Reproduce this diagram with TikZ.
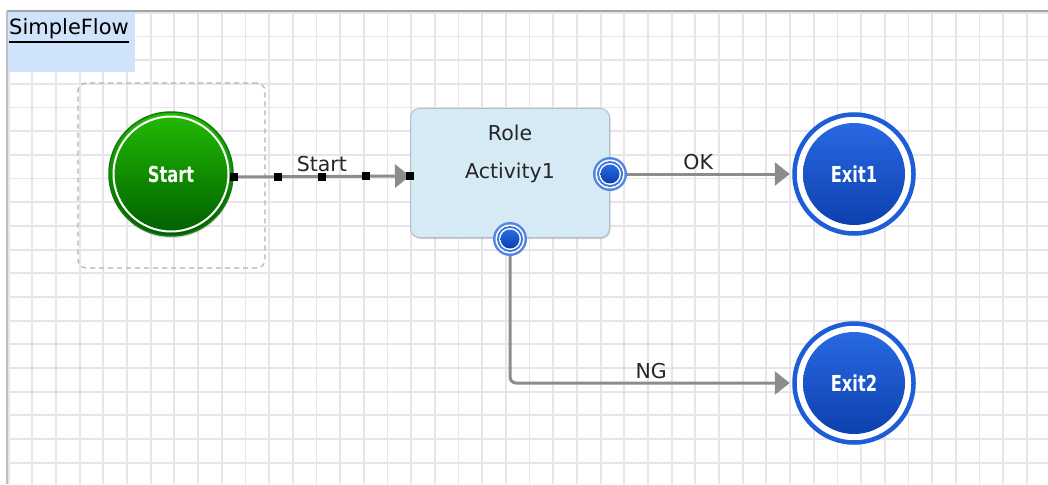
\documentclass[tikz,border=0pt]{standalone}
\usepackage{fontspec}
\setmainfont{DejaVu Sans}
\newfontfamily\boldcond[FakeStretch=0.74]{DejaVu Sans Bold}
\usetikzlibrary{arrows.meta,shadows}

\definecolor{gridc}{HTML}{E9E4E9}
\definecolor{framec}{HTML}{A4A4A4}
\definecolor{titlebg}{HTML}{CFE3FB}
\definecolor{flowc}{HTML}{8C8C8C}
\definecolor{boxfill}{HTML}{D6EAF5}
\definecolor{boxline}{HTML}{AFC0CB}
\definecolor{greentop}{HTML}{22BC02}
\definecolor{greenbot}{HTML}{005E00}
\definecolor{greenedge}{HTML}{117A0A}
\definecolor{bluering}{HTML}{1D5ED8}
\definecolor{bluetop}{HTML}{2A6CE6}
\definecolor{bluebot}{HTML}{0B3DAA}
\definecolor{txt}{HTML}{262626}

\begin{document}
\begin{tikzpicture}[x=1pt, y=-1pt]
    % Node styles
    \tikzstyle{n} = [font=\fontsize{20.5}{24}\selectfont, text=txt, inner sep=3]
    \tikzstyle{lbl} = [n, inner sep=3]
    \tikzstyle{white text} = [text=white, font=\boldcond\fontsize{22}{26}\selectfont]
    \tikzstyle{startnode} = [circle, minimum size=124, inner sep=0, draw=greenedge, line width=1.5,
        top color=greentop, bottom color=greenbot, white text,
        drop shadow={shadow xshift=0.5pt, shadow yshift=-2pt, opacity=0.3},
        path picture={\draw[white, line width=2] (path picture bounding box.center) circle (57.5pt);}]
    \tikzstyle{exitnode} = [circle, minimum size=119, inner sep=0, draw=bluering, line width=4.5,
        fill=white, white text,
        drop shadow={shadow xshift=0.5pt, shadow yshift=-2pt, opacity=0.3},
        path picture={\shade[top color=bluetop, bottom color=bluebot] (path picture bounding box.center) circle (51pt);}]
    \tikzstyle{port} = [circle, minimum size=34, inner sep=0, fill=bluering!75!white,
        path picture={
            \fill[white] (path picture bounding box.center) circle (14.5pt);
            \fill[bluering!85!white] (path picture bounding box.center) circle (13pt);
            \fill[white] (path picture bounding box.center) circle (11pt);
            \shade[top color=bluetop, bottom color=bluebot] (path picture bounding box.center) circle (9.5pt);}]
    \tikzstyle{actbox} = [n, rectangle, rounded corners=9, minimum width=199, minimum height=129,
        fill=boxfill, draw=boxline, line width=1,
        drop shadow={shadow xshift=1pt, shadow yshift=-1.5pt, opacity=0.35}]
    \tikzstyle{selbox} = [draw=gray!60, dash pattern=on 5pt off 4pt, line width=1.2, rounded corners=8,
        minimum width=187, minimum height=185, inner sep=0]
    \tikzstyle{handle} = [rectangle, fill=black, minimum size=8, inner sep=0]
    \tikzstyle{flow} = [draw=flowc, line width=3, -{Triangle[length=15pt,width=23pt]}]

    \useasboundingbox (0,0) rectangle (1048,484);
    \fill[white] (0,0) rectangle (1048,484);

    % Grid
    \begin{scope}
        \clip (7,11) rectangle (1048,484);
        \foreach \i in {0,...,44}
            \draw[gridc, line width=1.8] ({8.6+23.68*\i},11) -- ({8.6+23.68*\i},484);
        \foreach \j in {0,...,20}
            \draw[gridc, line width=1.8] (7,{12.8+23.68*\j}) -- (1048,{12.8+23.68*\j});
    \end{scope}
    \draw[framec, line width=2] (7,11) -- (1048,11);
    \draw[framec!70, line width=1.5] (7,11) -- (7,484);

    % Title
    \fill[titlebg] (8,12) rectangle (135,72);
    \node[n, anchor=base west, inner sep=0, font=\fontsize{21}{24}\selectfont, text=black] (title) at (9,35) {SimpleFlow};
    \draw[line width=1.5] ([yshift=-7pt]title.base west) -- ([yshift=-7pt]title.base east);

    % Nodes
    \node[selbox] (startsel) at (171.5,175.5) {};
    \node[startnode] (start) at (171,174) {Start};

    \node[actbox] (act) at (510,173) {Activity1};
    \node[n] (role) at (510,133) {Role};
    \node[port] (okport) at (610,174) {};
    \node[port] (ngport) at (510,239) {};

    \node[exitnode] (exit1) at (854,174) {Exit1};
    \node[exitnode] (exit2) at (854,383) {Exit2};

    % Edges
    \draw[flow] ([yshift=-3pt]start.east) -- ([yshift=-3pt]act.west)
        node[lbl, pos=0.5, above] {Start}
        node[handle, pos=0] {} node[handle, pos=0.25] {} node[handle, pos=0.5] {}
        node[handle, pos=0.75] {} node[handle, pos=1] {};

    \draw[flow, shorten >=2.5pt] (okport) -- (exit1) node[lbl, pos=0.43, above] {OK};

    \draw[flow, shorten >=2.5pt, rounded corners=6] (ngport) |- (exit2) node[lbl, pos=0.75, above] {NG};

\end{tikzpicture}
\end{document}
